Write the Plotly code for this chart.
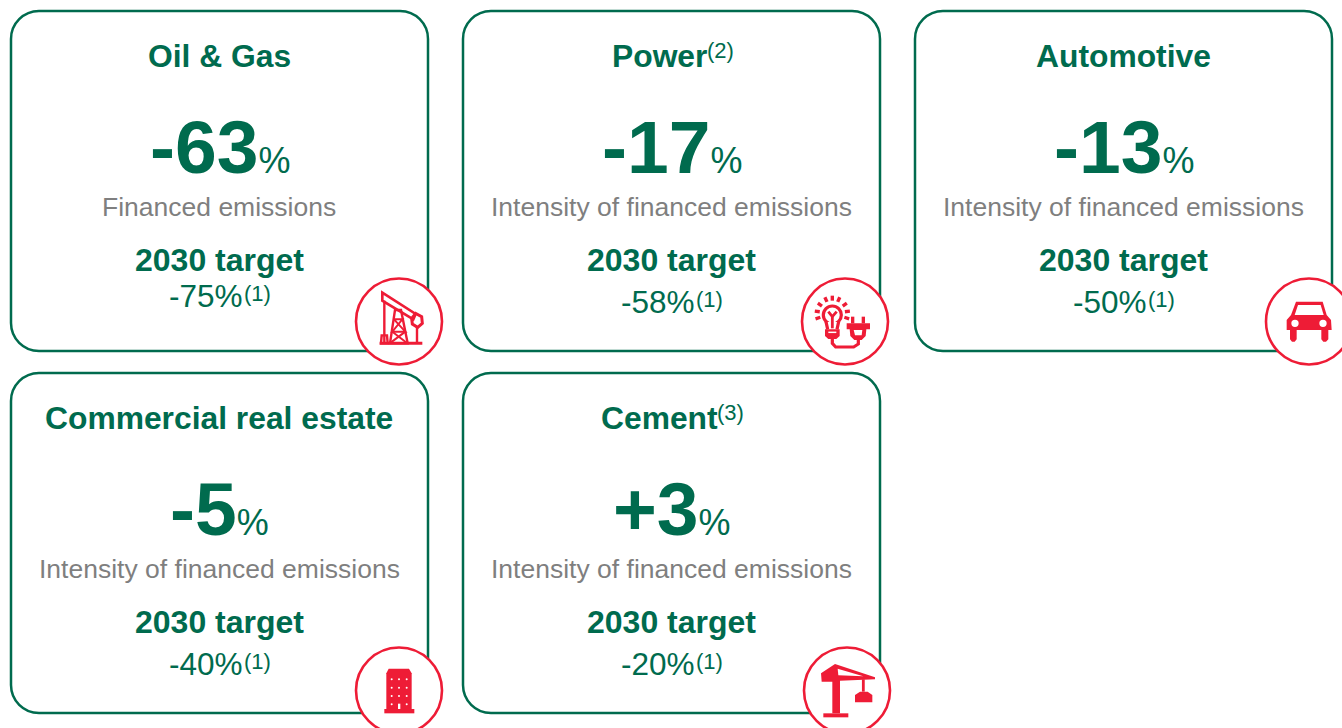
import math
import plotly.graph_objects as go

# ---- content -------------------------------------------------------------
sectors = ["Oil & Gas", "Power", "Automotive", "Commercial real estate", "Cement"]
sector_notes = ["", "(2)", "", "", "(3)"]
changes = ["-63", "-17", "-13", "-5", "+3"]
metrics = ["Financed emissions", "Intensity of financed emissions",
           "Intensity of financed emissions", "Intensity of financed emissions",
           "Intensity of financed emissions"]
targets = ["-75%", "-58%", "-50%", "-40%", "-20%"]
target_label = "2030 target"
target_note = "(1)"

# ---- style / layout ------------------------------------------------------
GREEN, GREY, RED = "#006B4E", "#7F7F7F", "#EE1C36"
FONT = "Liberation Sans, Arial, sans-serif"
card_x = [11, 463, 915, 11, 463]
card_y = [11, 11, 11, 373, 373]
CARD_W, CARD_H, R = 417, 340, 28
badge_c = [(399, 321.5), (845, 321.5), (1309, 321.5), (399, 690.5), (847, 690.5)]
BADGE_R = 43
target_dy = [285, 291, 291, 291, 291]
title_split = [0, 37.5, 0, 0, 48.5]
note_split = [0, 33, 0, 0, 43.5]

shapes, annos = [], []


def text(x, y, s, size, color, anchor="center"):
    annos.append(dict(x=x, y=y, xref="x", yref="y", text=s, showarrow=False,
                      xanchor=anchor, yanchor="middle",
                      font=dict(family=FONT, size=size, color=color)))


def rounded(x, y, w, h, r):
    k = r * 0.4477
    return (f"M{x+r},{y} L{x+w-r},{y} C{x+w-k},{y} {x+w},{y+k} {x+w},{y+r} L{x+w},{y+h-r} "
            f"C{x+w},{y+h-k} {x+w-k},{y+h} {x+w-r},{y+h} L{x+r},{y+h} C{x+k},{y+h} {x},{y+h-k} {x},{y+h-r} "
            f"L{x},{y+r} C{x},{y+k} {x+k},{y} {x+r},{y} Z")


def poly(origin, pts, fill=None, width=0, close=True, color=RED):
    ox, oy = origin
    d = "M" + " L".join(f"{ox+a/3:.2f},{oy+b/3:.2f}" for a, b in pts) + (" Z" if close else "")
    shapes.append(dict(type="path", path=d, xref="x", yref="y",
                       fillcolor=fill if fill else "rgba(0,0,0,0)",
                       line=dict(color=color, width=width)))


def circ(origin, cx, cy, r, fill=None, width=0, color=RED):
    ox, oy = origin
    shapes.append(dict(type="circle", xref="x", yref="y",
                       x0=ox+(cx-r)/3, x1=ox+(cx+r)/3, y0=oy+(cy-r)/3, y1=oy+(cy+r)/3,
                       fillcolor=fill if fill else "rgba(0,0,0,0)",
                       line=dict(color=color, width=width)))


# cards
for i in range(5):
    shapes.append(dict(type="path", path=rounded(card_x[i], card_y[i], CARD_W, CARD_H, R),
                       xref="x", yref="y", line=dict(color=GREEN, width=2.5),
                       fillcolor="white"))
for (cx, cy) in badge_c:
    shapes.append(dict(type="circle", xref="x", yref="y", x0=cx-BADGE_R, x1=cx+BADGE_R,
                       y0=cy-BADGE_R, y1=cy+BADGE_R, fillcolor="white",
                       line=dict(color=RED, width=2.6)))

# oil pump icon
o = (345, 270)
poly(o, [(112, 68), (212, 132), (205, 148), (112, 92)], width=2.6)
poly(o, [(118, 92), (118, 220)], width=2.4, close=False)
poly(o, [(104, 220), (232, 220)], width=3, close=False)
poly(o, [(110, 196), (126, 196), (128, 220), (108, 220)], width=2.4)
poly(o, [(150, 120), (168, 120), (188, 220), (135, 220)], width=2.4)
poly(o, [(147, 148), (172, 148), (142, 185), (181, 185), (147, 148)], width=2, close=False)
poly(o, [(142, 185), (185, 218)], width=2, close=False)
poly(o, [(181, 185), (137, 218)], width=2, close=False)
poly(o, [(200, 145), (212, 130), (230, 140), (232, 160), (218, 172), (202, 162)], width=3)
poly(o, [(216, 172), (216, 220)], width=2.4, close=False)

# bulb and plug icon
o = (795, 270)
circ(o, 112, 135, 27, width=3.2)
poly(o, [(95, 156), (100, 178), (125, 178), (130, 156)], fill="white", width=0)
poly(o, [(93, 155), (98, 178)], width=3.2, close=False)
poly(o, [(131, 155), (126, 178)], width=3.2, close=False)
poly(o, [(100, 125), (112, 140), (125, 125)], width=2.8, close=False)
poly(o, [(112, 140), (112, 175)], width=2.8, close=False)
for ang in (198, 173, 145, 115, 90, 65, 35, 7, -18):
    a = math.radians(ang)
    poly(o, [(112+38*math.cos(a), 130-38*math.sin(a)),
             (112+53*math.cos(a), 130-53*math.sin(a))], width=3.4, close=False)
poly(o, [(90, 178), (134, 178), (134, 198), (124, 207), (100, 207), (90, 198)], fill=RED)
poly(o, [(100, 187), (124, 187)], width=1.5, close=False, color="white")
poly(o, [(112, 207), (112, 220), (122, 231), (176, 231), (190, 222), (190, 210)], width=3.2, close=False)
poly(o, [(168, 140), (178, 140), (178, 160), (168, 160)], fill=RED)
poly(o, [(200, 140), (210, 140), (210, 160), (200, 160)], fill=RED)
poly(o, [(155, 160), (225, 160), (225, 178), (214, 178), (212, 198), (200, 210), (178, 210), (166, 198), (164, 178), (155, 178)], fill=RED)
poly(o, [(176, 180), (202, 180), (200, 196), (180, 196)], fill="white")

# car icon
o = (1260, 270)
poly(o, [(108, 95), (188, 95), (200, 135), (213, 150), (215, 180), (205, 180), (205, 208), (198, 215), (190, 215),
         (184, 208), (184, 180), (110, 180), (110, 208), (104, 215), (96, 215), (90, 208), (90, 180), (80, 180),
         (80, 150), (93, 135)], fill=RED)
poly(o, [(114, 105), (182, 105), (191, 135), (104, 135)], fill="white")
circ(o, 105, 160, 11, fill="white")
circ(o, 189, 160, 11, fill="white")

# building icon
o = (345, 640)
poly(o, [(131, 86), (192, 86), (200, 100), (200, 207), (124, 207), (124, 100)], fill=RED)
poly(o, [(118, 207), (208, 207), (208, 220), (118, 220)], fill=RED)
for wy in (118, 143, 168, 193):
    for wx in (140, 162, 185):
        if not (wy == 193 and wx == 162):
            circ(o, wx, wy, 3, fill="white")
poly(o, [(159, 191), (166, 191), (166, 207), (159, 207)], fill="white")

# crane icon
o = (795, 640)
poly(o, [(78, 100), (120, 72), (240, 112), (240, 118), (135, 122), (135, 220), (112, 220), (112, 125), (80, 125)], fill=RED)
poly(o, [(128, 86), (205, 109), (130, 106)], fill="white")
poly(o, [(205, 118), (205, 155)], width=2.8, close=False)
poly(o, [(180, 165), (195, 155), (218, 155), (232, 165), (232, 187), (180, 187)], fill=RED)
poly(o, [(85, 220), (160, 220), (160, 232), (85, 232)], fill=RED)

# texts
for i in range(5):
    cx = card_x[i] + CARD_W / 2
    y0 = card_y[i]
    if sector_notes[i]:
        text(cx + title_split[i], y0 + 45, f"<b>{sectors[i]}</b>", 31.8, GREEN, "right")
        text(cx + note_split[i], y0 + 39, sector_notes[i], 22, GREEN, "left")
    else:
        text(cx - 0.3, y0 + 45, f"<b>{sectors[i]}</b>", 31.8, GREEN)
    text(cx, y0 + 136, f"<b>{changes[i]}</b><span style='font-size:36px'>%</span>", 75, GREEN)
    text(cx - 0.5, y0 + 196, metrics[i], 26.5, GREY)
    text(cx, y0 + 249, f"<b>{target_label}</b>", 32, GREEN)
    text(cx + 25, y0 + target_dy[i], targets[i], 31.5, GREEN, "right")
    text(cx + 22.5, y0 + target_dy[i] - 3, target_note, 22, GREEN, "left")

fig = go.Figure()
fig.update_layout(
    width=1342, height=728, autosize=False, margin=dict(l=0, r=0, t=0, b=0),
    paper_bgcolor="white", plot_bgcolor="white", showlegend=False,
    xaxis=dict(range=[0, 1342], visible=False, fixedrange=True),
    yaxis=dict(range=[728, 0], visible=False, fixedrange=True),
    shapes=shapes, annotations=annos,
)
fig.write_html("out.html", config=dict(displayModeBar=False),
               post_script="document.body.style.margin='0';document.body.style.overflow='hidden';")
